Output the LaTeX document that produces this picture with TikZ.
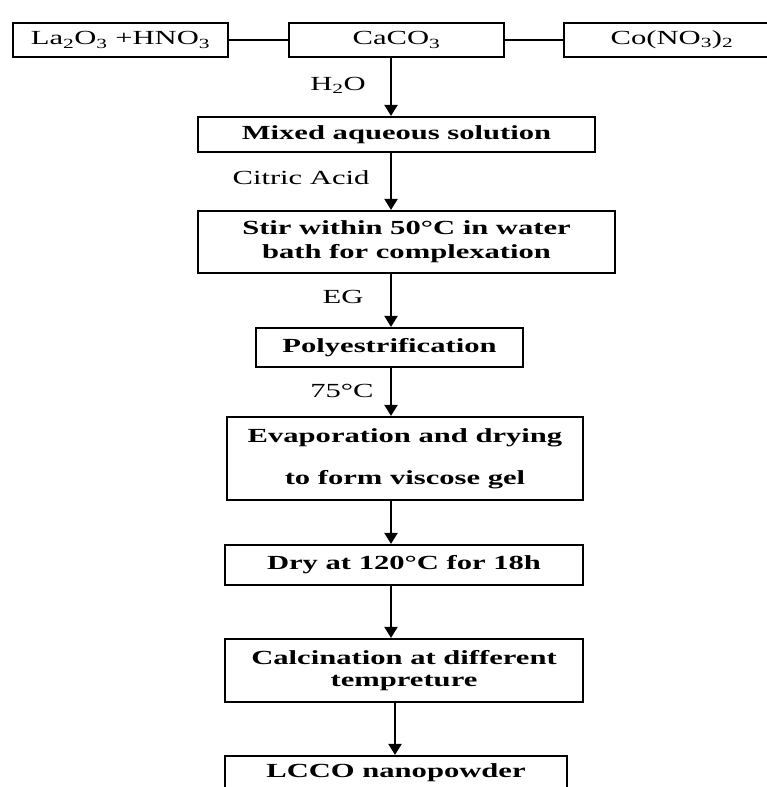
\documentclass[tikz,border=0pt]{standalone}
\usepackage{fontspec}
\setmainfont{Liberation Serif}[FakeStretch=1.53]
\usetikzlibrary{arrows.meta}
\tikzset{
  box/.style={draw=black, line width=2.2pt, inner sep=0pt, align=center,
    font=\fontsize{20}{24}\selectfont},
  stepbox/.style={box, font=\fontsize{20}{24}\selectfont\bfseries},
  lab/.style={inner sep=0pt, font=\fontsize{20}{24}\selectfont},
  arr/.style={line width=2.2pt, -{Triangle[width=13pt,length=11pt]}},
  link/.style={line width=2.2pt}
}
\begin{document}
\begin{tikzpicture}[x=1pt,y=-1pt]
\useasboundingbox (0,0) rectangle (767,787);
\clip (0,0) rectangle (767,787);
\fill[white] (0,0) rectangle (767,787);
\coordinate (axis) at (391,0);
\coordinate (axisb) at (395,0);
% top row
\node[box, minimum width=215pt, minimum height=34pt] (la) at (120.5,40) {La\textsubscript{2}O\textsubscript{3} +HNO\textsubscript{3}};
\node[box, minimum width=215pt, minimum height=34pt] (ca) at (396.5,40) {CaCO\textsubscript{3}};
\node[box, minimum width=216pt, minimum height=34pt] (co) at (672,40) {Co(NO\textsubscript{3})\textsubscript{2}};
% steps
\node[stepbox, minimum width=397pt, minimum height=35pt] (mix) at (396.5,134.5) {Mixed aqueous solution};
\node[stepbox, minimum width=417pt, minimum height=62pt] (stir) at (406.5,242) {Stir within 50°C in water\\bath for complexation};
\node[stepbox, minimum width=267pt, minimum height=39pt] (poly) at (389.5,347.5) {Polyestrification};
\node[stepbox, minimum width=356pt, minimum height=83pt] (evap) at (405,458.5) {Evaporation and drying\\[18pt]to form viscose gel};
\node[stepbox, minimum width=358pt, minimum height=40pt] (dry) at (404,565) {Dry at 120°C for 18h};
\node[stepbox, minimum width=358pt, minimum height=63pt] (calc) at (404,670.5) {Calcination at different\\[-2pt]tempreture};
\node[stepbox, minimum width=342pt, minimum height=34pt] (lcco) at (396,773) {LCCO nanopowder};
% labels
\node[lab] (h2o) at (338,85) {H\textsubscript{2}O};
\node[lab] (cit) at (301,178) {Citric Acid};
\node[lab] (eg) at (343,297) {EG};
\node[lab] (t75) at (342,391) {75°C};
% connectors
\draw[link] (la.east) -- (ca.west);
\draw[link] (ca.east) -- (co.west);
\draw[arr] (ca.south -| axis) -- (mix.north -| axis);
\draw[arr] (mix.south -| axis) -- (stir.north -| axis);
\draw[arr] (stir.south -| axis) -- (poly.north -| axis);
\draw[arr] (poly.south -| axis) -- (evap.north -| axis);
\draw[arr] (evap.south -| axis) -- (dry.north -| axis);
\draw[arr] (dry.south -| axis) -- (calc.north -| axis);
\draw[arr] (calc.south -| axisb) -- (lcco.north -| axisb);
\end{tikzpicture}
\end{document}
